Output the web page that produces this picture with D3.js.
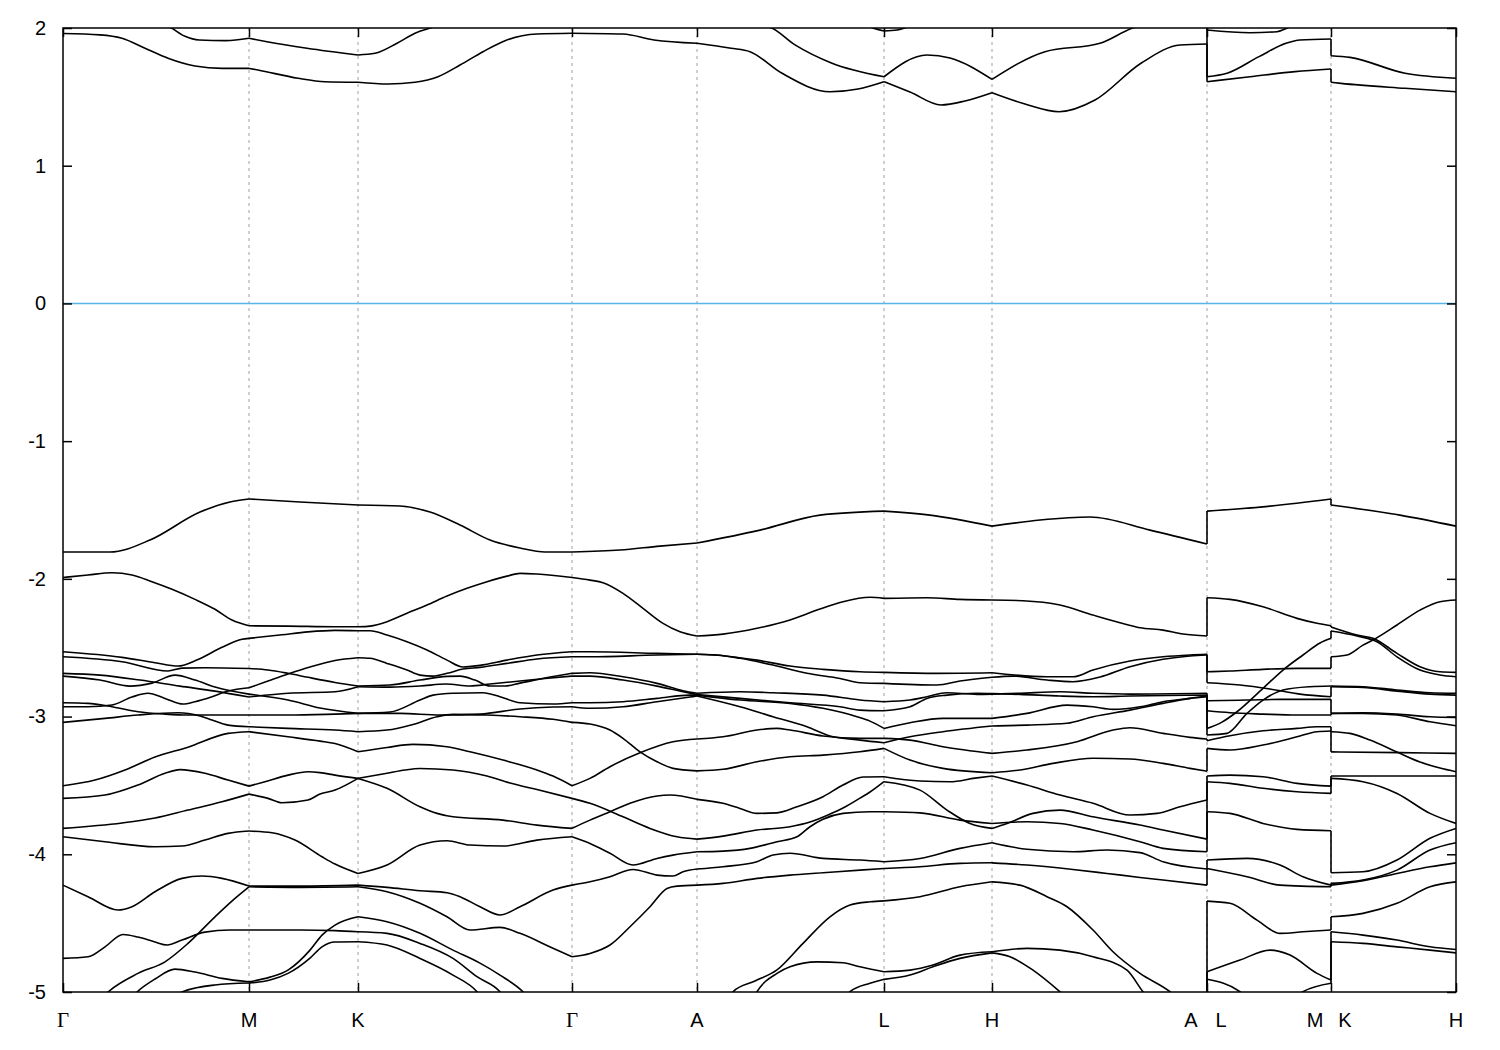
<!DOCTYPE html>
<html><head><meta charset="utf-8">
<script src="https://cdn.jsdelivr.net/npm/d3@7"></script>
<style>body{margin:0;background:#fff;}</style>
</head><body>
<svg id="chart" width="1500" height="1050"></svg>
<script>
// high-symmetry path positions (arbitrary path units) and labels
const kTicks = [0, 1.86, 2.95, 5.09, 6.34, 8.21, 9.29, 11.44, 12.68, 13.93];
const kLabels = ["Γ","M","K","Γ","A","L","H","A|L","M|K","H"];
const eTicks = [2, 1, 0, -1, -2, -3, -4, -5];
const eRange = [-5, 2];
const fermiLevel = 0;

// band curves per path section: each curve is a list of [k, E(eV)]
const secGM = [
 [[0,1.96],[0.37,1.95],[0.59,1.925],[0.82,1.853],[1.05,1.78],[1.32,1.724],[1.59,1.707],[1.86,1.707]],
 [[0,2.12],[0.77,2.06],[1.07,2.005],[1.22,1.94],[1.36,1.913],[1.63,1.908],[1.86,1.925]],
 [[0,-1.805],[0.47,-1.805],[0.87,-1.718],[1.37,-1.515],[1.67,-1.442],[1.86,-1.420]],
 [[0,-1.99],[0.25,-1.972],[0.49,-1.956],[0.69,-1.972],[0.89,-2.021],[1.09,-2.076],[1.32,-2.149],[1.52,-2.221],[1.69,-2.299],[1.86,-2.341]],
 [[0,-2.529],[0.59,-2.570],[0.92,-2.609],[1.15,-2.633],[1.35,-2.585],[1.59,-2.497],[1.79,-2.439],[1.86,-2.432]],
 [[0,-2.566],[0.59,-2.602],[1.05,-2.669],[1.19,-2.648],[1.42,-2.646],[1.86,-2.651]],
 [[0,-2.686],[0.37,-2.699],[0.77,-2.735],[1.17,-2.779],[1.52,-2.815],[1.86,-2.858]],
 [[0,-2.706],[0.37,-2.735],[0.67,-2.779],[0.89,-2.757],[1.12,-2.699],[1.32,-2.735],[1.52,-2.786],[1.86,-2.837]],
 [[0,-2.929],[0.25,-2.929],[0.49,-2.916],[0.69,-2.858],[0.85,-2.831],[1.02,-2.868],[1.20,-2.909],[1.32,-2.892],[1.49,-2.856],[1.65,-2.815],[1.86,-2.791]],
 [[0,-2.900],[0.25,-2.904],[0.49,-2.929],[0.75,-2.965],[1.02,-2.982],[1.25,-2.989],[1.86,-2.989]],
 [[0,-3.042],[0.42,-3.013],[0.75,-2.989],[1.15,-2.972],[1.37,-2.996],[1.49,-3.025],[1.65,-3.062],[1.86,-3.074]],
 [[0,-3.502],[0.32,-3.461],[0.62,-3.388],[0.92,-3.294],[1.25,-3.222],[1.65,-3.122],[1.86,-3.110]],
 [[0,-3.594],[0.42,-3.570],[0.75,-3.497],[1.02,-3.412],[1.17,-3.385],[1.42,-3.412],[1.65,-3.461],[1.86,-3.505]],
 [[0,-3.812],[0.59,-3.773],[0.92,-3.737],[1.25,-3.679],[1.59,-3.619],[1.86,-3.563]],
 [[0,-3.873],[0.42,-3.909],[0.92,-3.945],[1.19,-3.940],[1.42,-3.897],[1.65,-3.848],[1.86,-3.831]],
 [[0,-4.224],[0.25,-4.308],[0.55,-4.405],[0.69,-4.381],[0.92,-4.272],[1.19,-4.175],[1.39,-4.158],[1.59,-4.175],[1.86,-4.231]],
 [[0.32,-5.095],[0.45,-5.0],[0.75,-4.865],[1.02,-4.781],[1.25,-4.647],[1.52,-4.454],[1.72,-4.320],[1.86,-4.236]],
 [[0,-4.756],[0.25,-4.744],[0.42,-4.672],[0.60,-4.582],[0.75,-4.601],[0.92,-4.637],[1.04,-4.659],[1.19,-4.623],[1.42,-4.565],[1.67,-4.550],[1.86,-4.550]],
 [[0.62,-5.095],[0.74,-5.0],[0.92,-4.906],[1.12,-4.834],[1.32,-4.855],[1.59,-4.901],[1.86,-4.926]],
 [[1.07,-5.095],[1.19,-5.0],[1.52,-4.949],[1.86,-4.935]]
];
const secMK = [
 [[1.86,1.707],[1.95,1.695],[2.35,1.635],[2.62,1.610],[2.95,1.606]],
 [[1.86,1.925],[2.04,1.900],[2.44,1.853],[2.95,1.804]],
 [[1.86,-1.420],[2.37,-1.442],[2.95,-1.464]],
 [[1.86,-2.341],[2.25,-2.343],[2.72,-2.348],[2.95,-2.348]],
 [[1.86,-2.432],[2.19,-2.406],[2.45,-2.385],[2.72,-2.374],[2.95,-2.377]],
 [[1.86,-2.651],[2.05,-2.662],[2.25,-2.686],[2.45,-2.715],[2.72,-2.752],[2.95,-2.778]],
 [[1.86,-2.791],[2.05,-2.742],[2.25,-2.691],[2.47,-2.640],[2.72,-2.593],[2.95,-2.573]],
 [[1.86,-2.858],[2.25,-2.831],[2.72,-2.820],[2.95,-2.783]],
 [[1.86,-2.837],[2.25,-2.880],[2.57,-2.938],[2.95,-2.977]],
 [[1.86,-2.989],[2.25,-2.989],[2.72,-2.982],[2.95,-2.977]],
 [[1.86,-3.074],[2.25,-3.086],[2.72,-3.098],[2.95,-3.110]],
 [[1.86,-3.110],[2.25,-3.147],[2.57,-3.178],[2.72,-3.196],[2.95,-3.256]],
 [[1.86,-3.505],[2.02,-3.473],[2.25,-3.425],[2.45,-3.401],[2.57,-3.407],[2.72,-3.425],[2.95,-3.449]],
 [[1.86,-3.563],[2.05,-3.594],[2.19,-3.626],[2.45,-3.606],[2.57,-3.563],[2.72,-3.534],[2.95,-3.449]],
 [[1.86,-3.831],[2.09,-3.844],[2.32,-3.897],[2.59,-4.018],[2.72,-4.071],[2.95,-4.139]],
 [[1.86,-4.231],[2.37,-4.231],[2.95,-4.224]],
 [[1.86,-4.236],[2.37,-4.240],[2.95,-4.236]],
 [[1.86,-4.550],[2.37,-4.550],[2.72,-4.554],[2.95,-4.563]],
 [[1.86,-4.926],[2.07,-4.892],[2.25,-4.841],[2.47,-4.696],[2.59,-4.587],[2.72,-4.514],[2.95,-4.454]],
 [[1.86,-4.935],[2.07,-4.913],[2.25,-4.865],[2.47,-4.754],[2.59,-4.672],[2.72,-4.637],[2.95,-4.635]]
];
const secKG = [
 [[2.95,1.606],[3.25,1.593],[3.52,1.606],[3.75,1.646],[3.97,1.731],[4.20,1.828],[4.42,1.908],[4.74,1.956],[5.09,1.962]],
 [[2.95,1.804],[3.12,1.816],[3.34,1.889],[3.52,1.962],[3.70,2.005],[4.07,2.06],[4.57,2.09],[5.09,2.10]],
 [[2.95,-1.464],[3.37,-1.471],[3.67,-1.515],[3.97,-1.609],[4.27,-1.718],[4.57,-1.776],[4.82,-1.805],[5.09,-1.805]],
 [[2.95,-2.348],[3.07,-2.343],[3.24,-2.311],[3.44,-2.250],[3.64,-2.190],[3.84,-2.125],[4.04,-2.069],[4.24,-2.021],[4.44,-1.980],[4.57,-1.960],[4.74,-1.965],[5.09,-1.99]],
 [[2.95,-2.377],[3.07,-2.377],[3.24,-2.408],[3.44,-2.457],[3.64,-2.517],[3.84,-2.590],[4.00,-2.640],[4.17,-2.628],[4.44,-2.590],[4.74,-2.553],[5.09,-2.529]],
 [[2.95,-2.573],[3.07,-2.577],[3.24,-2.614],[3.44,-2.662],[3.57,-2.699],[3.70,-2.706],[3.84,-2.686],[4.00,-2.655],[4.17,-2.643],[4.44,-2.614],[4.74,-2.582],[5.09,-2.566]],
 [[2.95,-2.778],[3.27,-2.771],[3.57,-2.735],[3.84,-2.708],[3.97,-2.706],[4.12,-2.735],[4.27,-2.778],[4.42,-2.778],[4.57,-2.757],[4.82,-2.720],[5.09,-2.686]],
 [[2.95,-2.783],[3.27,-2.786],[3.57,-2.778],[3.83,-2.764],[4.07,-2.778],[4.27,-2.764],[4.57,-2.742],[4.82,-2.724],[5.09,-2.706]],
 [[2.95,-2.977],[3.27,-2.967],[3.57,-2.880],[3.70,-2.844],[3.90,-2.831],[4.20,-2.827],[4.37,-2.856],[4.57,-2.900],[4.90,-2.909],[5.09,-2.900]],
 [[2.95,-2.977],[3.37,-2.977],[3.77,-2.989],[4.17,-2.982],[4.57,-2.945],[4.90,-2.931],[5.09,-2.929]],
 [[2.95,-3.110],[3.24,-3.098],[3.50,-3.057],[3.74,-3.001],[3.90,-2.984],[4.24,-2.989],[4.57,-3.001],[4.90,-3.020],[5.09,-3.042]],
 [[2.95,-3.256],[3.24,-3.224],[3.50,-3.202],[3.84,-3.219],[4.07,-3.256],[4.40,-3.316],[4.74,-3.388],[4.90,-3.432],[5.09,-3.502]],
 [[2.95,-3.449],[3.24,-3.412],[3.42,-3.388],[3.57,-3.377],[3.90,-3.388],[4.24,-3.432],[4.47,-3.483],[4.74,-3.530],[5.09,-3.594]],
 [[2.95,-3.449],[3.24,-3.521],[3.57,-3.655],[3.74,-3.703],[3.90,-3.728],[4.40,-3.752],[4.74,-3.788],[5.09,-3.812]],
 [[2.95,-4.139],[3.24,-4.078],[3.57,-3.933],[3.84,-3.902],[4.07,-3.933],[4.40,-3.940],[4.74,-3.897],[5.09,-3.873]],
 [[2.95,-4.224],[3.24,-4.240],[3.57,-4.265],[3.84,-4.279],[3.97,-4.308],[4.17,-4.381],[4.37,-4.441],[4.57,-4.381],[4.90,-4.260],[5.09,-4.224]],
 [[2.95,-4.236],[3.24,-4.272],[3.57,-4.356],[3.84,-4.454],[4.07,-4.550],[4.37,-4.531],[4.57,-4.574],[4.90,-4.683],[5.09,-4.744]],
 [[2.95,-4.454],[3.24,-4.490],[3.57,-4.574],[3.90,-4.696],[4.17,-4.790],[4.37,-4.877],[4.60,-4.998],[4.72,-5.095]],
 [[2.95,-4.563],[3.24,-4.574],[3.57,-4.647],[3.90,-4.756],[4.14,-4.889],[4.37,-4.998],[4.47,-5.095]],
 [[2.95,-4.635],[3.24,-4.659],[3.57,-4.756],[3.90,-4.877],[4.14,-4.998],[4.24,-5.095]]
];
const secGA = [
 [[5.09,1.962],[5.60,1.956],[5.91,1.913],[6.34,1.889]],
 [[5.09,2.10],[6.34,2.08]],
 [[5.09,-1.805],[5.57,-1.791],[5.97,-1.762],[6.34,-1.740]],
 [[5.09,-1.99],[5.27,-2.009],[5.40,-2.028],[5.60,-2.105],[5.80,-2.214],[6.00,-2.323],[6.17,-2.384],[6.34,-2.415]],
 [[5.09,-2.529],[5.27,-2.529],[5.94,-2.541],[6.34,-2.548]],
 [[5.09,-2.566],[5.27,-2.566],[5.94,-2.553],[6.34,-2.548]],
 [[5.09,-2.686],[5.27,-2.682],[5.60,-2.711],[5.94,-2.759],[6.20,-2.812],[6.34,-2.831]],
 [[5.09,-2.706],[5.27,-2.706],[5.60,-2.735],[5.94,-2.779],[6.20,-2.820],[6.34,-2.840]],
 [[5.09,-2.900],[5.27,-2.900],[5.60,-2.892],[5.94,-2.868],[6.27,-2.844],[6.34,-2.844]],
 [[5.09,-2.929],[5.27,-2.940],[5.60,-2.929],[5.94,-2.892],[6.27,-2.858],[6.34,-2.851]],
 [[5.09,-3.042],[5.27,-3.054],[5.47,-3.098],[5.60,-3.158],[5.77,-3.256],[5.94,-3.328],[6.10,-3.376],[6.34,-3.394]],
 [[5.09,-3.502],[5.27,-3.449],[5.47,-3.364],[5.77,-3.263],[6.10,-3.183],[6.34,-3.163]],
 [[5.09,-3.594],[5.27,-3.630],[5.60,-3.728],[5.87,-3.812],[6.14,-3.873],[6.34,-3.890]],
 [[5.09,-3.812],[5.27,-3.752],[5.47,-3.691],[5.67,-3.630],[5.94,-3.577],[6.07,-3.570],[6.34,-3.601]],
 [[5.09,-3.873],[5.27,-3.921],[5.47,-3.993],[5.70,-4.078],[5.94,-4.030],[6.10,-4.006],[6.34,-3.982]],
 [[5.09,-4.224],[5.27,-4.200],[5.47,-4.163],[5.70,-4.110],[5.94,-4.151],[6.10,-4.158],[6.20,-4.127],[6.34,-4.107]],
 [[5.09,-4.744],[5.27,-4.720],[5.47,-4.659],[5.67,-4.526],[5.87,-4.381],[6.04,-4.248],[6.14,-4.231],[6.34,-4.224]]
];
const secAL = [
 [[6.34,1.889],[6.68,1.853],[6.87,1.828],[7.19,1.671],[7.67,1.537],[7.95,1.557],[8.21,1.610]],
 [[6.34,2.08],[6.77,2.04],[7.07,2.005],[7.32,1.877],[7.69,1.744],[8.21,1.646]],
 [[7.57,2.12],[7.97,2.04],[8.10,2.0],[8.21,1.978]],
 [[6.34,-1.740],[6.97,-1.646],[7.57,-1.537],[8.21,-1.508]],
 [[6.34,-2.415],[6.60,-2.401],[6.94,-2.359],[7.27,-2.299],[7.54,-2.227],[7.80,-2.166],[8.07,-2.134],[8.21,-2.142]],
 [[6.34,-2.548],[6.60,-2.558],[6.94,-2.590],[7.27,-2.633],[7.60,-2.657],[7.97,-2.675],[8.21,-2.679]],
 [[6.34,-2.548],[6.54,-2.553],[6.77,-2.577],[7.10,-2.626],[7.44,-2.686],[7.77,-2.723],[7.97,-2.754],[8.21,-2.759]],
 [[6.34,-2.831],[6.77,-2.820],[7.10,-2.827],[7.60,-2.844],[7.97,-2.880],[8.21,-2.892]],
 [[6.34,-2.840],[6.77,-2.868],[7.27,-2.900],[7.77,-2.929],[7.97,-2.953],[8.21,-2.958]],
 [[6.34,-2.844],[6.77,-2.880],[7.27,-2.904],[7.60,-2.940],[7.94,-3.001],[8.07,-3.033],[8.21,-3.086]],
 [[6.34,-2.851],[6.77,-2.929],[7.10,-3.001],[7.44,-3.074],[7.67,-3.141],[7.97,-3.171],[8.21,-3.190]],
 [[6.34,-3.163],[6.60,-3.147],[6.94,-3.098],[7.14,-3.086],[7.27,-3.098],[7.60,-3.141],[7.97,-3.158],[8.21,-3.158]],
 [[6.34,-3.394],[6.60,-3.383],[6.94,-3.328],[7.27,-3.292],[7.60,-3.280],[7.97,-3.256],[8.21,-3.231]],
 [[6.34,-3.601],[6.60,-3.630],[6.77,-3.667],[6.94,-3.703],[7.14,-3.699],[7.34,-3.655],[7.60,-3.582],[7.80,-3.497],[8.00,-3.439],[8.21,-3.437]],
 [[6.34,-3.890],[6.60,-3.868],[6.94,-3.824],[7.27,-3.800],[7.47,-3.766],[7.67,-3.708],[7.80,-3.664],[7.97,-3.592],[8.07,-3.548],[8.21,-3.473]],
 [[6.34,-3.982],[6.60,-3.977],[6.87,-3.957],[7.14,-3.909],[7.34,-3.873],[7.47,-3.800],[7.60,-3.746],[7.80,-3.703],[8.07,-3.691],[8.21,-3.691]],
 [[6.34,-4.107],[6.60,-4.090],[6.94,-4.054],[7.10,-4.005],[7.27,-3.993],[7.60,-4.030],[7.97,-4.042],[8.21,-4.054]],
 [[6.34,-4.224],[6.60,-4.211],[6.94,-4.175],[7.27,-4.151],[7.60,-4.134],[7.97,-4.115],[8.21,-4.103]],
 [[6.62,-5.095],[6.70,-4.998],[6.92,-4.920],[7.14,-4.840],[7.40,-4.647],[7.67,-4.454],[7.87,-4.369],[8.07,-4.345],[8.21,-4.338]],
 [[6.87,-5.095],[6.94,-4.998],[7.14,-4.865],[7.27,-4.817],[7.54,-4.781],[7.80,-4.788],[7.97,-4.817],[8.21,-4.853]],
 [[7.77,-5.095],[7.87,-4.998],[8.07,-4.937],[8.21,-4.908]]
];
const secLH = [
 [[8.21,1.610],[8.47,1.535],[8.78,1.441],[9.02,1.470],[9.29,1.530]],
 [[8.21,1.646],[8.64,1.804],[8.87,1.782],[9.29,1.627]],
 [[8.21,1.978],[8.34,1.985],[8.47,2.015],[8.77,2.09]],
 [[8.21,-1.508],[8.67,-1.537],[9.29,-1.617]],
 [[8.21,-2.142],[8.64,-2.137],[8.97,-2.149],[9.29,-2.154]],
 [[8.21,-2.679],[8.74,-2.686],[9.29,-2.682]],
 [[8.21,-2.759],[8.74,-2.771],[8.97,-2.742],[9.29,-2.715]],
 [[8.21,-2.892],[8.47,-2.880],[8.64,-2.856],[8.84,-2.827],[9.14,-2.839],[9.29,-2.837]],
 [[8.21,-2.958],[8.47,-2.929],[8.64,-2.868],[8.84,-2.844],[9.14,-2.831],[9.29,-2.833]],
 [[8.21,-3.086],[8.47,-3.045],[8.80,-3.013],[9.29,-3.013]],
 [[8.21,-3.190],[8.47,-3.147],[8.80,-3.110],[9.29,-3.069]],
 [[8.21,-3.158],[8.47,-3.171],[8.80,-3.219],[9.29,-3.267]],
 [[8.21,-3.231],[8.47,-3.316],[8.80,-3.376],[9.29,-3.408]],
 [[8.21,-3.437],[8.57,-3.468],[8.87,-3.473],[9.12,-3.447],[9.29,-3.432]],
 [[8.21,-3.473],[8.57,-3.534],[8.84,-3.679],[9.07,-3.776],[9.29,-3.812]],
 [[8.21,-3.691],[8.57,-3.699],[8.97,-3.752],[9.29,-3.776]],
 [[8.21,-4.054],[8.57,-4.030],[8.97,-3.957],[9.29,-3.916]],
 [[8.21,-4.103],[8.57,-4.090],[8.97,-4.066],[9.29,-4.062]],
 [[8.21,-4.338],[8.57,-4.308],[8.97,-4.236],[9.29,-4.200]],
 [[8.21,-4.853],[8.47,-4.841],[8.70,-4.804],[8.97,-4.732],[9.29,-4.708]],
 [[8.21,-4.908],[8.47,-4.877],[8.70,-4.817],[8.97,-4.756],[9.29,-4.716]]
];
const secHA = [
 [[9.29,1.530],[9.62,1.448],[9.96,1.392],[10.32,1.477],[10.78,1.744],[11.17,1.877],[11.44,1.884]],
 [[9.29,1.627],[9.82,1.828],[10.37,1.889],[10.69,1.998],[11.07,2.06],[11.44,2.09]],
 [[9.29,2.2],[11.44,2.2]],
 [[9.29,-1.617],[9.77,-1.573],[10.27,-1.551],[10.87,-1.646],[11.44,-1.747]],
 [[9.29,-2.154],[9.60,-2.159],[9.97,-2.190],[10.30,-2.263],[10.57,-2.319],[10.77,-2.355],[11.00,-2.372],[11.20,-2.401],[11.44,-2.415]],
 [[9.29,-2.682],[9.84,-2.711],[10.10,-2.711],[10.30,-2.662],[10.67,-2.597],[11.00,-2.566],[11.27,-2.553],[11.44,-2.548]],
 [[9.29,-2.715],[9.50,-2.706],[9.84,-2.735],[10.10,-2.747],[10.37,-2.713],[10.67,-2.638],[11.00,-2.584],[11.27,-2.560],[11.44,-2.553]],
 [[9.29,-2.837],[9.57,-2.831],[9.97,-2.820],[10.30,-2.831],[10.67,-2.837],[11.44,-2.831]],
 [[9.29,-2.833],[9.57,-2.839],[9.97,-2.851],[10.30,-2.856],[10.67,-2.851],[11.44,-2.844]],
 [[9.29,-3.013],[9.64,-2.977],[10.04,-2.917],[10.30,-2.929],[10.50,-2.948],[10.77,-2.929],[11.00,-2.892],[11.27,-2.868],[11.44,-2.856]],
 [[9.29,-3.069],[9.64,-3.062],[10.04,-3.049],[10.30,-3.001],[10.67,-2.953],[11.00,-2.904],[11.27,-2.868],[11.44,-2.851]],
 [[9.29,-3.267],[9.64,-3.243],[10.14,-3.183],[10.50,-3.098],[10.67,-3.081],[11.00,-3.122],[11.27,-3.151],[11.44,-3.163]],
 [[9.29,-3.408],[9.57,-3.388],[9.90,-3.340],[10.30,-3.303],[10.67,-3.308],[11.00,-3.340],[11.27,-3.376],[11.44,-3.396]],
 [[9.29,-3.432],[9.64,-3.497],[9.97,-3.570],[10.30,-3.630],[10.67,-3.715],[10.94,-3.703],[11.17,-3.655],[11.44,-3.606]],
 [[9.29,-3.812],[9.44,-3.776],[9.70,-3.703],[9.97,-3.679],[10.30,-3.728],[10.77,-3.788],[11.00,-3.824],[11.44,-3.890]],
 [[9.29,-3.776],[9.64,-3.764],[9.97,-3.776],[10.30,-3.824],[10.77,-3.909],[11.00,-3.957],[11.44,-3.982]],
 [[9.29,-3.916],[9.64,-3.964],[10.10,-3.982],[10.44,-3.969],[10.77,-3.988],[11.00,-4.054],[11.44,-4.107]],
 [[9.29,-4.062],[9.64,-4.078],[10.10,-4.110],[10.44,-4.139],[10.77,-4.168],[11.00,-4.187],[11.44,-4.224]],
 [[9.29,-4.200],[9.57,-4.224],[9.84,-4.308],[10.04,-4.381],[10.30,-4.550],[10.50,-4.708],[10.77,-4.865],[11.07,-4.998],[11.22,-5.095],[11.44,-5.2]],
 [[9.29,-4.708],[9.64,-4.683],[9.97,-4.696],[10.30,-4.744],[10.64,-4.841],[10.80,-4.998],[10.92,-5.095],[11.44,-5.3]],
 [[9.29,-4.716],[9.47,-4.744],[9.70,-4.841],[9.97,-4.998],[10.12,-5.095],[11.44,-5.4]]
];
const secLM = [
 [[11.44,1.610],[11.87,1.646],[12.32,1.683],[12.68,1.702]],
 [[11.44,1.646],[11.64,1.671],[11.96,1.792],[12.23,1.889],[12.37,1.913],[12.68,1.920]],
 [[11.44,1.985],[11.87,1.966],[12.14,1.973],[12.26,2.005],[12.47,2.06],[12.68,2.09]],
 [[11.44,-1.508],[11.97,-1.479],[12.68,-1.420]],
 [[11.44,-2.137],[11.67,-2.149],[12.00,-2.203],[12.34,-2.287],[12.54,-2.323],[12.68,-2.341]],
 [[11.44,-2.675],[11.67,-2.669],[12.00,-2.657],[12.34,-2.650],[12.68,-2.650]],
 [[11.44,-2.754],[11.77,-2.771],[12.07,-2.800],[12.37,-2.837],[12.68,-2.856]],
 [[11.44,-2.885],[11.84,-2.880],[12.17,-2.875],[12.68,-2.875]],
 [[11.44,-2.958],[11.67,-2.972],[12.00,-2.982],[12.34,-2.989],[12.68,-2.989]],
 [[11.44,-3.086],[11.59,-3.040],[11.74,-2.965],[12.00,-2.795],[12.20,-2.662],[12.40,-2.553],[12.57,-2.466],[12.68,-2.432]],
 [[11.44,-3.134],[11.64,-3.122],[11.84,-2.977],[12.00,-2.880],[12.20,-2.807],[12.47,-2.783],[12.68,-2.778]],
 [[11.44,-3.175],[11.67,-3.139],[12.00,-3.103],[12.34,-3.086],[12.54,-3.074],[12.68,-3.074]],
 [[11.44,-3.231],[11.67,-3.243],[12.00,-3.207],[12.34,-3.147],[12.54,-3.110],[12.68,-3.105]],
 [[11.44,-3.432],[11.67,-3.425],[12.00,-3.437],[12.34,-3.485],[12.68,-3.505]],
 [[11.44,-3.473],[11.67,-3.485],[12.00,-3.521],[12.34,-3.546],[12.68,-3.558]],
 [[11.44,-3.691],[11.67,-3.703],[12.00,-3.776],[12.34,-3.819],[12.68,-3.829]],
 [[11.44,-4.042],[11.84,-4.030],[12.17,-4.078],[12.40,-4.163],[12.68,-4.224]],
 [[11.44,-4.103],[11.84,-4.163],[12.17,-4.224],[12.68,-4.236]],
 [[11.44,-4.340],[11.67,-4.356],[11.94,-4.478],[12.17,-4.574],[12.40,-4.563],[12.68,-4.550]],
 [[11.44,-4.853],[11.77,-4.768],[12.07,-4.696],[12.27,-4.732],[12.54,-4.865],[12.68,-4.913]],
 [[11.44,-4.908],[11.77,-4.998],[11.92,-5.095],[12.68,-5.3]],
 [[12.22,-5.095],[12.40,-4.998],[12.68,-4.937]]
];
const secKH = [
 [[12.68,1.606],[12.78,1.598],[13.42,1.562],[13.93,1.537]],
 [[12.68,1.799],[12.87,1.787],[13.42,1.671],[13.93,1.635]],
 [[12.68,2.2],[13.93,2.2]],
 [[12.68,-1.464],[13.37,-1.537],[13.93,-1.617]],
 [[12.68,-2.350],[12.94,-2.408],[13.10,-2.432],[13.34,-2.541],[13.57,-2.638],[13.77,-2.675],[13.93,-2.679]],
 [[12.68,-2.379],[12.94,-2.415],[13.14,-2.457],[13.34,-2.566],[13.57,-2.662],[13.77,-2.698],[13.93,-2.711]],
 [[12.68,-2.566],[12.84,-2.553],[13.00,-2.481],[13.10,-2.444],[13.34,-2.335],[13.57,-2.227],[13.77,-2.166],[13.93,-2.154]],
 [[12.68,-2.778],[13.00,-2.783],[13.34,-2.807],[13.67,-2.827],[13.93,-2.831]],
 [[12.68,-2.783],[13.00,-2.789],[13.34,-2.815],[13.67,-2.837],[13.93,-2.844]],
 [[12.68,-2.977],[13.00,-2.972],[13.34,-2.982],[13.67,-3.001],[13.93,-3.006]],
 [[12.68,-2.977],[13.00,-2.977],[13.34,-2.989],[13.67,-3.038],[13.93,-3.067]],
 [[12.68,-3.110],[12.87,-3.122],[13.07,-3.171],[13.34,-3.258],[13.57,-3.330],[13.77,-3.374],[13.93,-3.401]],
 [[12.68,-3.256],[13.37,-3.262],[13.93,-3.267]],
 [[12.68,-3.432],[13.93,-3.432]],
 [[12.68,-3.449],[13.00,-3.473],[13.34,-3.558],[13.67,-3.703],[13.93,-3.776]],
 [[12.68,-4.134],[13.00,-4.127],[13.34,-4.042],[13.67,-3.884],[13.93,-3.812]],
 [[12.68,-4.211],[13.00,-4.187],[13.34,-4.115],[13.67,-3.969],[13.93,-3.916]],
 [[12.68,-4.224],[13.00,-4.191],[13.34,-4.139],[13.67,-4.091],[13.93,-4.062]],
 [[12.68,-4.454],[13.00,-4.429],[13.34,-4.356],[13.67,-4.236],[13.93,-4.200]],
 [[12.68,-4.563],[13.00,-4.587],[13.34,-4.623],[13.67,-4.672],[13.93,-4.691]],
 [[12.68,-4.635],[13.00,-4.647],[13.34,-4.672],[13.67,-4.696],[13.93,-4.716]],
 [[12.68,-5.3],[13.93,-5.3]]
];
const sections = [secGM, secMK, secKG, secGA, secAL, secLH, secHA, secLM, secKH];
// discontinuities of the path: [section ending there, section starting there, k]
const jumps = [[secHA, secLM, kTicks[7]], [secLM, secKH, kTicks[8]]];

const W = 1500, H = 1050;
const m = {l: 63, r: 44, t: 28, b: 58};
const svg = d3.select("#chart");
const x = d3.scaleLinear().domain([kTicks[0], kTicks[kTicks.length-1]]).range([m.l, W - m.r]);
const y = d3.scaleLinear().domain(eRange).range([H - m.b, m.t]);

svg.append("defs").append("clipPath").attr("id","plotclip")
  .append("rect").attr("x", m.l).attr("y", m.t)
  .attr("width", W - m.l - m.r).attr("height", H - m.t - m.b);

// dashed high-symmetry lines
svg.append("g").selectAll("line").data(kTicks.slice(1, -1)).join("line")
  .attr("x1", d => x(d)).attr("x2", d => x(d))
  .attr("y1", y(eRange[1])).attr("y2", y(eRange[0]))
  .attr("stroke", "#a0a0a0").attr("stroke-width", 1).attr("stroke-dasharray", "3,4");

// Fermi level
svg.append("line")
  .attr("x1", x.range()[0]).attr("x2", x.range()[1])
  .attr("y1", y(fermiLevel)).attr("y2", y(fermiLevel))
  .attr("stroke", "#56b4e9").attr("stroke-width", 1.5);

const line = d3.line().x(d => x(d[0])).y(d => y(d[1])).curve(d3.curveMonotoneX);
const bands = svg.append("g").attr("clip-path", "url(#plotclip)")
  .attr("fill", "none").attr("stroke", "#000").attr("stroke-width", 1.6)
  .attr("stroke-linejoin", "round");

sections.forEach(sec => {
  bands.selectAll(null).data(sec).join("path").attr("d", line);
});

// vertical connectors at path discontinuities (bands paired by energy order)
jumps.forEach(([endSec, startSec, kj]) => {
  const ends = endSec.filter(c => Math.abs(c[c.length-1][0] - kj) < 1e-6)
    .map(c => c[c.length-1][1]).sort((a, b) => b - a);
  const starts = startSec.filter(c => Math.abs(c[0][0] - kj) < 1e-6)
    .map(c => c[0][1]).sort((a, b) => b - a);
  const n = Math.min(ends.length, starts.length);
  const pairs = d3.range(n).map(i => [ends[i], starts[i]]);
  bands.selectAll(null).data(pairs).join("line")
    .attr("x1", x(kj)).attr("x2", x(kj))
    .attr("y1", d => y(d[0])).attr("y2", d => y(d[1]));
});

// frame
svg.append("rect").attr("x", m.l).attr("y", m.t)
  .attr("width", W - m.l - m.r).attr("height", H - m.t - m.b)
  .attr("fill", "none").attr("stroke", "#000").attr("stroke-width", 1.5);

const fontSans = "'Liberation Sans', Arial, sans-serif";
function styleAxis(g) {
  g.select(".domain").remove();
  g.selectAll(".tick line").attr("stroke", "#000").attr("stroke-width", 1.5);
  g.selectAll("text").attr("fill", "#000").style("font-family", fontSans).style("font-size", "20px");
}
svg.append("g").attr("transform", `translate(${m.l},0)`)
  .call(d3.axisLeft(y).tickValues(eTicks).tickSize(-9).tickPadding(17).tickFormat(d => String(d)))
  .call(styleAxis);
svg.append("g").attr("transform", `translate(${W - m.r},0)`)
  .call(d3.axisRight(y).tickValues(eTicks).tickSize(-9).tickFormat(""))
  .call(styleAxis);
svg.append("g").attr("transform", `translate(0,${m.t})`)
  .call(d3.axisTop(x).tickValues(kTicks).tickSize(-9).tickFormat(""))
  .call(styleAxis);
svg.append("g").attr("transform", `translate(0,${H - m.b})`)
  .call(d3.axisBottom(x).tickValues(kTicks).tickSize(-9).tickFormat(""))
  .call(styleAxis);

// k-point labels
const labelData = [];
kTicks.forEach((k, i) => {
  const parts = kLabels[i].split("|");
  if (parts.length === 1) labelData.push({k, t: parts[0], dx: 0});
  else { labelData.push({k, t: parts[0], dx: -16}); labelData.push({k, t: parts[1], dx: 14}); }
});
svg.append("g").selectAll("text").data(labelData).join("text")
  .attr("x", d => x(d.k) + d.dx).attr("y", H - m.b + 35)
  .attr("text-anchor", "middle")
  .style("font-family", d => d.t === "Γ" ? "'Liberation Serif', 'DejaVu Serif', serif" : fontSans)
  .style("font-size", d => d.t === "Γ" ? "21px" : "20px")
  .attr("fill", "#000")
  .text(d => d.t);
</script>
</body></html>
